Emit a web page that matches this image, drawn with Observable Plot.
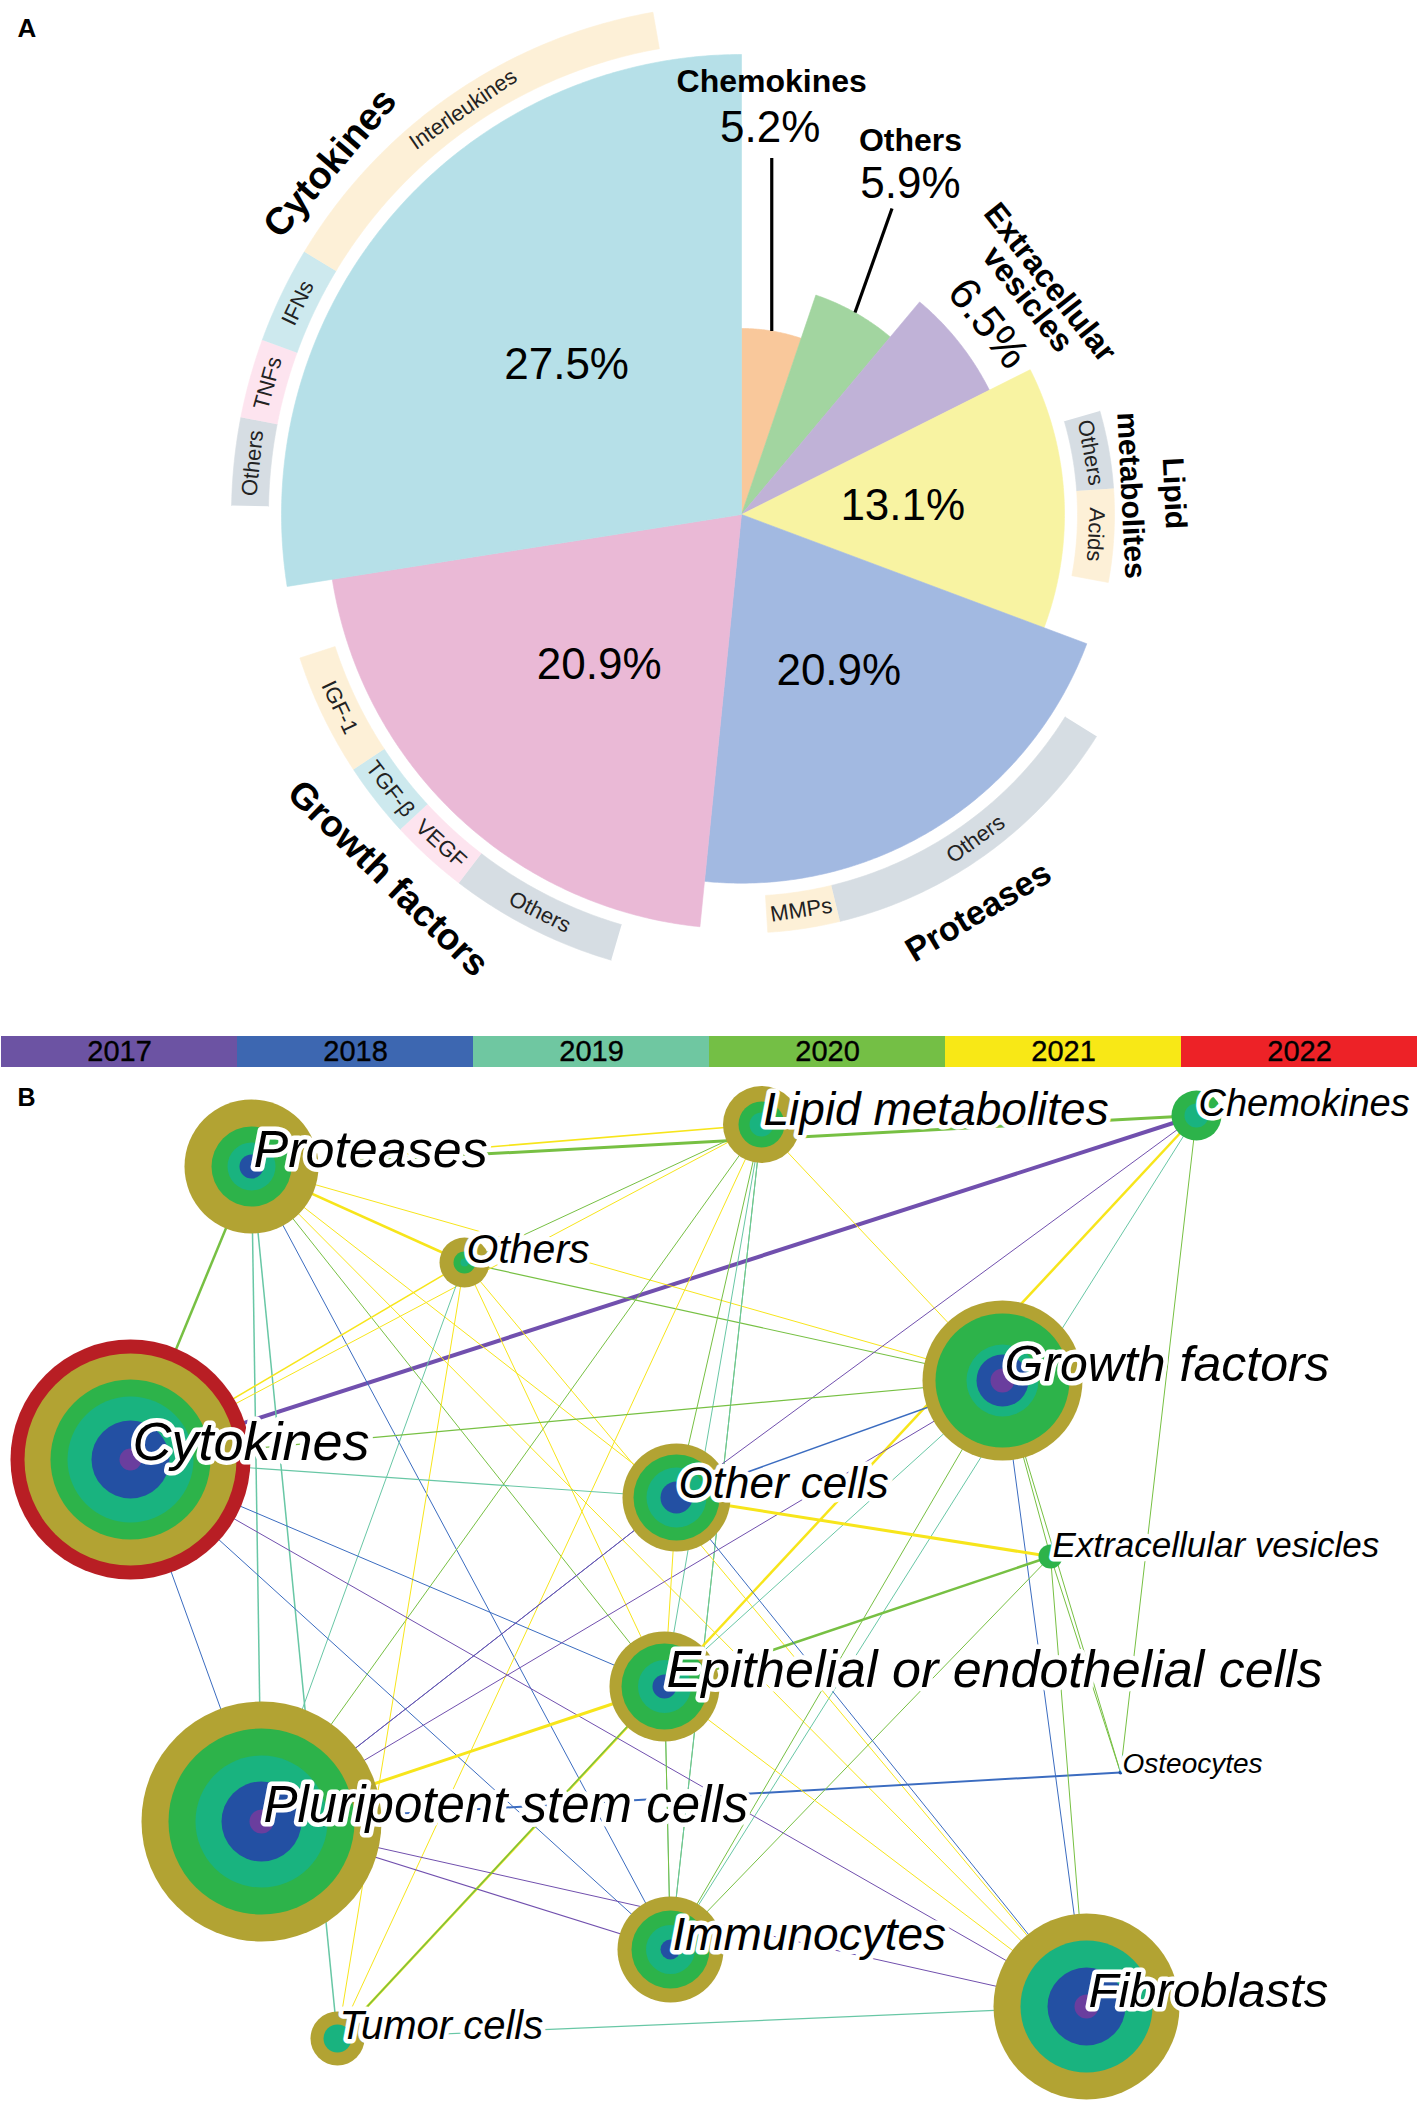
<!DOCTYPE html>
<html>
<head>
<meta charset="utf-8">
<script src="https://cdn.jsdelivr.net/npm/d3@7"></script>
<script src="https://cdn.jsdelivr.net/npm/@observablehq/plot@0.6"></script>
<style>
html, body { margin: 0; padding: 0; background: #fff; overflow: hidden; }
#page { position: relative; width: 1417px; height: 2102px; overflow: hidden; font-family: "Liberation Sans", Arial, Helvetica, sans-serif; }
#page > div { position: absolute; left: 0; }
#panelA { top: 0; }
#legend { top: 1036px; }
#panelB { top: 1070px; }
svg { display: block; }
</style>
</head>
<body>
<div id="page"><div id="panelA"></div><div id="legend"></div><div id="panelB"></div></div>
<script>
// ====================== DATA ======================
// Panel A – categories of bioactive components and their shares (%)
const categories = ["Chemokines", "Others", "Extracellular vesicles", "Lipid metabolites", "Proteases", "Growth factors", "Cytokines"];
const shares = [5.2, 5.9, 6.5, 13.1, 20.9, 20.9, 27.5];

// Panel A – sub-categories shown on the outer bands (arc span in degrees)
const subParent = ["Lipid metabolites", "Lipid metabolites", "Proteases", "Proteases",
  "Growth factors", "Growth factors", "Growth factors", "Growth factors",
  "Cytokines", "Cytokines", "Cytokines", "Cytokines"];
const subName = ["Others", "Acids", "Others", "MMPs", "Others", "VEGF", "TGF-β", "IGF-1", "Others", "TNFs", "IFNs", "Interleukines"];
const subSpan = [12.1, 14.5, 44.4, 10, 21.2, 9.8, 9.4, 15.3, 10, 9, 11, 49];

// Legend / years
const years = ["2017", "2018", "2019", "2020", "2021", "2022"];

// Panel B – network nodes and yearly ring thickness (2017..2022)
const nodeNames = ["Proteases", "Others", "Cytokines", "Lipid metabolites", "Chemokines", "Growth factors",
  "Other cells", "Extracellular vesicles", "Epithelial or endothelial cells", "Osteocytes",
  "Pluripotent stem cells", "Immunocytes", "Tumor cells", "Fibroblasts"];
const ringCounts = [
  [0, 12, 12, 16, 27, 0],
  [0, 0, 4, 7, 14, 0],
  [11, 28, 24, 17, 26, 14],
  [0, 0, 12, 11, 15.5, 0],
  [0, 0, 12, 13, 0, 0],
  [12, 14, 10, 31, 13, 0],
  [0, 16, 14, 13, 11, 0],
  [0, 0, 0, 12, 0, 0],
  [0, 12, 14.5, 16.5, 12, 0],
  [0, 2, 0, 0, 0, 0],
  [12, 28, 26, 27, 27, 0],
  [0, 10, 14.5, 14.5, 14, 0],
  [0, 0, 14, 0, 13, 0],
  [12, 27, 27, 0, 27, 0]
];

// Panel B – links (source, target, year of first co-occurrence, strength)
const edgeSource = ["Proteases","Proteases","Cytokines","Proteases","Proteases","Proteases","Proteases","Proteases","Proteases","Proteases","Proteases","Proteases",
  "Others","Others","Lipid metabolites","Lipid metabolites","Lipid metabolites","Lipid metabolites","Lipid metabolites","Lipid metabolites","Lipid metabolites","Lipid metabolites","Lipid metabolites",
  "Chemokines","Chemokines","Chemokines","Chemokines",
  "Others","Others","Others","Others",
  "Cytokines","Cytokines","Cytokines","Cytokines","Cytokines","Cytokines",
  "Pluripotent stem cells","Pluripotent stem cells","Pluripotent stem cells","Pluripotent stem cells","Pluripotent stem cells","Pluripotent stem cells",
  "Growth factors","Growth factors","Growth factors","Growth factors","Growth factors","Growth factors",
  "Extracellular vesicles","Extracellular vesicles","Extracellular vesicles","Extracellular vesicles","Extracellular vesicles",
  "Tumor cells","Tumor cells","Epithelial or endothelial cells","Other cells","Epithelial or endothelial cells","Epithelial or endothelial cells","Other cells","Other cells"];
const edgeTarget = ["Chemokines","Lipid metabolites","Chemokines","Cytokines","Others","Pluripotent stem cells","Tumor cells","Immunocytes","Epithelial or endothelial cells","Other cells","Fibroblasts","Growth factors",
  "Growth factors","Cytokines","Others","Cytokines","Pluripotent stem cells","Tumor cells","Other cells","Epithelial or endothelial cells","Immunocytes","Immunocytes","Growth factors",
  "Other cells","Tumor cells","Immunocytes","Osteocytes",
  "Pluripotent stem cells","Tumor cells","Epithelial or endothelial cells","Fibroblasts",
  "Growth factors","Other cells","Epithelial or endothelial cells","Fibroblasts","Pluripotent stem cells","Immunocytes",
  "Epithelial or endothelial cells","Immunocytes","Osteocytes","Other cells","Growth factors","Fibroblasts",
  "Other cells","Fibroblasts","Extracellular vesicles","Osteocytes","Immunocytes","Epithelial or endothelial cells",
  "Other cells","Epithelial or endothelial cells","Fibroblasts","Osteocytes","Immunocytes",
  "Epithelial or endothelial cells","Fibroblasts","Fibroblasts","Fibroblasts","Immunocytes","Immunocytes","Epithelial or endothelial cells","Pluripotent stem cells"];
const edgeYear = ["2020","2021","2017","2020","2021","2019","2019","2018","2020","2021","2021","2021",
  "2020","2021","2020","2021","2020","2021","2020","2019","2020","2019","2021",
  "2017","2021","2019","2020",
  "2019","2021","2021","2021",
  "2020","2019","2018","2017","2018","2018",
  "2021","2017","2018","2018","2017","2017",
  "2018","2018","2020","2020","2020","2019",
  "2021","2020","2020","2020","2020",
  "2020","2019","2021","2018","2019","2020","2021","2017"];
const edgeWeight = [3,1.5,4,2.5,2.5,1.5,1.5,1,1,1,1,1,
  1.2,1.5,1,1,1,1,1,1,1,1,1,
  1,2.5,1,1,
  1,1,1,1,
  1.2,1.2,1,1,1,1,
  3,1.2,2,1,1,1,
  1.5,1,1,1,1,1,
  3,2.5,1,1,1,
  1.5,1.2,1,1,1,1,1,1];

// ====================== LAYOUT & STYLE ======================
const font = "Liberation Sans, Arial, Helvetica, sans-serif";
const center = {x: 741, y: 514};
const radiusRange = [186, 460];          // radius by rank of share
const bandGap = 13, bandWidth = 37;
const bandStartAngle = {"Lipid metabolites": 73.9, "Proteases": 122, "Growth factors": 196.3, "Cytokines": 271};
const sliceColor = {"Chemokines": "#f9c89b", "Others": "#a2d5a0", "Extracellular vesicles": "#c0b2d7",
  "Lipid metabolites": "#f8f3a2", "Proteases": "#a2b9e1", "Growth factors": "#eab9d6", "Cytokines": "#b6e0e8"};
const toneColor = {"Others": "#d6dde3", "Acids": "#fdf0d7", "MMPs": "#fdf0d7", "IGF-1": "#fdf0d7", "Interleukines": "#fdf0d7",
  "TGF-β": "#cde9ee", "IFNs": "#cde9ee", "VEGF": "#fde4ef", "TNFs": "#fde4ef"};
const groupLabel = {
  "Cytokines": {lines: ["Cytokines"], off: [31], size: 38},
  "Growth factors": {lines: ["Growth factors"], off: [43], size: 37},
  "Proteases": {lines: ["Proteases"], off: [44], size: 34},
  "Lipid metabolites": {lines: ["Lipid", "metabolites"], off: [60, 17], size: 30}
};
const callout = {
  "Chemokines": {lead: [0, -173], value: [-1.5, -30], name: [0, -76]},
  "Others": {lead: [37, -104], value: [18.5, -25], name: [18.5, -68]}
};
const pctSize = 44, calloutSize = 32, subSize = 22;
const legendColors = ["#6c53a3", "#3d67b1", "#6fc7a1", "#74bf45", "#f8e816", "#ed2227"];
const edgeColors = ["#7150ae", "#3b6cc0", "#68c7a5", "#77c043", "#f7e51b", "#e22b2b"];
const ringColors = ["#6a3e9e", "#2350a3", "#19b37f", "#2db34a", "#b2a333", "#b81e24"];
const nodeLayout = {
  "Proteases": [251, 1166], "Others": [464, 1262], "Cytokines": [130, 1459], "Lipid metabolites": [761, 1124],
  "Chemokines": [1196, 1115], "Growth factors": [1002, 1380], "Other cells": [676, 1497],
  "Extracellular vesicles": [1050, 1556], "Epithelial or endothelial cells": [664, 1686], "Osteocytes": [1120, 1772],
  "Pluripotent stem cells": [261, 1821], "Immunocytes": [670, 1949], "Tumor cells": [337, 2038], "Fibroblasts": [1086, 2006]
};
const labelFont = {
  "Proteases": 52, "Others": 41, "Cytokines": 54, "Lipid metabolites": 46, "Chemokines": 38, "Growth factors": 50,
  "Other cells": 44, "Extracellular vesicles": 35, "Epithelial or endothelial cells": 52, "Osteocytes": 28,
  "Pluripotent stem cells": 51, "Immunocytes": 46, "Tumor cells": 40, "Fibroblasts": 49
};

// ====================== PANEL A ======================
const rad = Math.PI / 180;
const pol = (a, r) => [center.x + r * Math.sin(a * rad), center.y - r * Math.cos(a * rad)];
const rot = a => (a <= 100 ? a : a >= 260 ? a - 360 : a - 180);

const order = d3.range(categories.length).sort((a, b) => shares[a] - shares[b] || a - b);
const rankOf = [];
order.forEach((i, k) => rankOf[i] = k);
const rScale = d3.scaleLinear().domain([0, categories.length - 1]).range(radiusRange);
const total = d3.sum(shares);

let acc = 0;
const slices = categories.map((c, i) => {
  const a0 = acc / total * 360;
  acc += shares[i];
  const a1 = acc / total * 360;
  return {cat: c, share: shares[i], a0, a1, mid: (a0 + a1) / 2, r: rScale(rankOf[i])};
});
const sliceOf = Object.fromEntries(slices.map(s => [s.cat, s]));

function arcPts(a0, a1, r) {
  const n = Math.max(2, Math.ceil(Math.abs(a1 - a0) / 0.5));
  return d3.range(n + 1).map(k => pol(a0 + (a1 - a0) * k / n, r));
}

const slicePoly = [];
for (const s of slices) {
  const pts = [[center.x, center.y], ...arcPts(s.a0, s.a1, s.r), [center.x, center.y]];
  for (const [x, y] of pts) slicePoly.push({key: "s:" + s.cat, x, y});
}

const bands = [];
const cursor = {...bandStartAngle};
subName.forEach((n, j) => {
  const p = subParent[j];
  const a0 = cursor[p], a1 = a0 + subSpan[j];
  cursor[p] = a1;
  const s = sliceOf[p];
  bands.push({id: j, parent: p, name: n, a0, a1, mid: (a0 + a1) / 2, r0: s.r + bandGap, r1: s.r + bandGap + bandWidth});
});
const bandPoly = [];
for (const b of bands) {
  const pts = [...arcPts(b.a0, b.a1, b.r0), ...arcPts(b.a1, b.a0, b.r1)];
  for (const [x, y] of pts) bandPoly.push({id: b.id, key: "b:" + b.name, x, y});
}

// percentage labels inside the large slices
const innerPct = slices.filter(s => s.share > 10).map(s => {
  const [x, y] = pol(s.mid, s.r / 2);
  return {x, y, text: s.share.toFixed(1) + "%"};
});

// callouts with leader lines (small slices at the top)
const leaders = [], calloutNames = [], calloutValues = [];
for (const c of Object.keys(callout)) {
  const s = sliceOf[c], o = callout[c];
  const [x1, y1] = pol(s.mid, s.r);
  const x2 = x1 + o.lead[0], y2 = y1 + o.lead[1];
  leaders.push({x1, y1, x2, y2});
  calloutValues.push({x: x2 + o.value[0], y: y2 + o.value[1], text: s.share.toFixed(1) + "%"});
  calloutNames.push({x: x2 + o.name[0], y: y2 + o.name[1], text: c});
}

// rotated label for extracellular vesicles
const ev = sliceOf["Extracellular vesicles"];
const evName = [["Extracellular", 386], ["vesicles", 358]].map(([t, r]) => {
  const [x, y] = pol(ev.mid + 1.4, r);
  return {x, y, text: t, rot: ev.mid};
});
const evPct = (() => { const [x, y] = pol(ev.mid + 0.6, 312); return [{x, y, text: ev.share.toFixed(1) + "%", rot: ev.mid}]; })();

// group labels outside bands
const groupRows = [];
for (const p of Object.keys(groupLabel)) {
  const bs = bands.filter(b => b.parent === p);
  const a = (d3.min(bs, b => b.a0) + d3.max(bs, b => b.a1)) / 2;
  const outer = bs[0].r1;
  const g = groupLabel[p];
  g.lines.forEach((t, k) => {
    const [x, y] = pol(a, outer + g.off[k]);
    groupRows.push({x, y, text: t, rot: rot(a), size: g.size});
  });
}
const subRows = bands.map(b => {
  const [x, y] = pol(b.mid, (b.r0 + b.r1) / 2);
  return {x, y, text: b.name, rot: rot(b.mid)};
});

const colorKeysA = [...categories.map(c => "s:" + c), ...Object.keys(toneColor).map(t => "b:" + t)];
const colorValsA = [...categories.map(c => sliceColor[c]), ...Object.keys(toneColor).map(t => toneColor[t])];

const plotA = Plot.plot({
  width: 1417, height: 1030, margin: 0,
  x: {domain: [0, 1417], range: [0, 1417], axis: null},
  y: {domain: [0, 1030], range: [0, 1030], axis: null},
  color: {domain: colorKeysA, range: colorValsA},
  style: {fontFamily: font, background: "white", overflow: "visible"},
  marks: [
    Plot.line(slicePoly, {x: "x", y: "y", z: "key", fill: "key", stroke: "key", strokeWidth: 0.6, curve: "linear"}),
    Plot.line(bandPoly, {x: "x", y: "y", z: "id", fill: "key", stroke: "key", strokeWidth: 0.6, curve: "linear"}),
    Plot.link(leaders, {x1: "x1", y1: "y1", x2: "x2", y2: "y2", stroke: "black", strokeWidth: 3.2}),
    Plot.text(innerPct, {x: "x", y: "y", text: "text", fontSize: pctSize, fill: "black", textAnchor: "middle", lineAnchor: "middle"}),
    Plot.text(calloutValues, {x: "x", y: "y", text: "text", fontSize: pctSize, fill: "black", textAnchor: "middle", lineAnchor: "middle"}),
    Plot.text(calloutNames, {x: "x", y: "y", text: "text", fontSize: calloutSize, fontWeight: "bold", fill: "black", textAnchor: "middle", lineAnchor: "middle"}),
    Plot.text(evName, {x: "x", y: "y", text: "text", rotate: "rot", fontSize: calloutSize, fontWeight: "bold", fill: "black", textAnchor: "middle", lineAnchor: "middle"}),
    Plot.text(evPct, {x: "x", y: "y", text: "text", rotate: "rot", fontSize: pctSize, fill: "black", textAnchor: "middle", lineAnchor: "middle"}),
    Plot.text(groupRows, {x: "x", y: "y", text: "text", rotate: "rot", fontSize: d => d.size, fontWeight: "bold", fill: "black", textAnchor: "middle", lineAnchor: "middle"}),
    Plot.text(subRows, {x: "x", y: "y", text: "text", rotate: "rot", fontSize: subSize, fill: "#222", textAnchor: "middle", lineAnchor: "middle"}),
    Plot.text(["A"], {frameAnchor: "top-left", dx: 17, dy: 18, lineAnchor: "top", fontSize: 26, fontWeight: "bold", fill: "black"})
  ]
});
document.getElementById("panelA").appendChild(plotA);

// ====================== LEGEND ======================
const legend = Plot.plot({
  width: 1417, height: 31, margin: 0,
  x: {type: "band", domain: years, padding: 0, axis: null},
  color: {domain: years, range: legendColors},
  style: {fontFamily: font, background: "white"},
  marks: [
    Plot.cell(years, {x: d => d, fill: d => d}),
    Plot.text(years, {x: d => d, text: d => d, fontSize: 29, fill: "black", stroke: "#111", strokeWidth: 0.4, frameAnchor: "middle", lineAnchor: "middle"})
  ]
});
document.getElementById("legend").appendChild(legend);

// ====================== PANEL B ======================
const edges = edgeSource.map((s, i) => {
  const [x1, y1] = nodeLayout[s], [x2, y2] = nodeLayout[edgeTarget[i]];
  return {x1, y1, x2, y2, key: "e" + edgeYear[i], w: edgeWeight[i]};
});
const rings = [];
nodeNames.forEach((n, i) => {
  const [x, y] = nodeLayout[n];
  let cum = 0;
  ringCounts[i].forEach((c, k) => {
    cum += c;
    if (c > 0) rings.push({node: n, x, y, r: cum, key: "r" + years[k]});
  });
});
rings.sort((a, b) => b.r - a.r);
const nodeLabels = nodeNames.map(n => ({x: nodeLayout[n][0], y: nodeLayout[n][1], text: n, size: labelFont[n]}));
const maxR = d3.max(rings, d => d.r);

const plotB = Plot.plot({
  width: 1417, height: 1032, margin: 0,
  x: {domain: [0, 1417], range: [0, 1417], axis: null},
  y: {domain: [1070, 2102], range: [0, 1032], axis: null},
  r: {type: "linear", domain: [0, maxR], range: [0, maxR]},
  color: {domain: [...years.map(y => "e" + y), ...years.map(y => "r" + y)], range: [...edgeColors, ...ringColors]},
  style: {fontFamily: font, background: "white", overflow: "visible"},
  marks: [
    Plot.link(edges, {x1: "x1", y1: "y1", x2: "x2", y2: "y2", stroke: "key", strokeWidth: d => d.w}),
    Plot.dot(rings, {x: "x", y: "y", r: "r", fill: "key"}),
    Plot.text(nodeLabels, {x: "x", y: "y", text: "text", fontSize: d => d.size, fontStyle: "italic", fill: "black",
      stroke: "white", strokeWidth: 9, strokeLinejoin: "round", textAnchor: "start", lineAnchor: "bottom", dx: 2}),
    Plot.text(["B"], {frameAnchor: "top-left", dx: 17, dy: 18, lineAnchor: "top", fontSize: 25, fontWeight: "bold", fill: "black"})
  ]
});
document.getElementById("panelB").appendChild(plotB);
</script>
</body>
</html>
